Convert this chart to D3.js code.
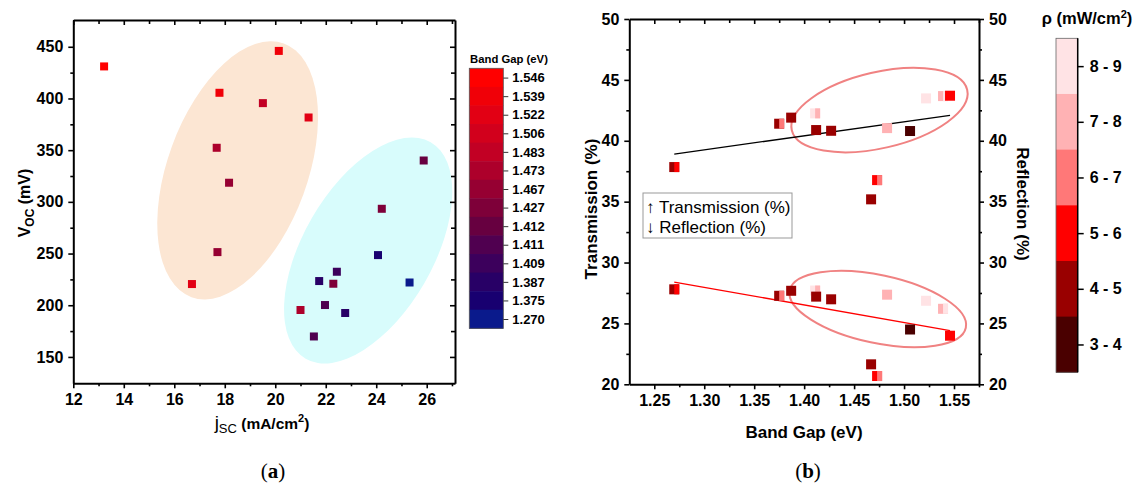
<!DOCTYPE html>
<html><head><meta charset="utf-8">
<script src="https://cdn.jsdelivr.net/npm/d3@7"></script>
<style>body{margin:0;background:#fff;} svg{display:block;font-family:"Liberation Sans",Arial,sans-serif;}</style>
</head><body><svg id="c" width="1137" height="487"></svg>
<script>
// ---------- Panel (a) data ----------
const bandGapLevels = [1.546,1.539,1.522,1.506,1.483,1.473,1.467,1.427,1.412,1.411,1.409,1.387,1.375,1.270];
const bandGapColors = ["#ff0000","#f00008","#e20014","#d2001c","#c20024","#ad002b","#960032","#7e0039","#670040","#500050","#3c005c","#280066","#180070","#0a1a8c"];
const jscValues = [13.22,20.14,17.79,19.51,21.32,17.68,18.17,25.88,24.22,17.71,16.70,24.07,22.44,21.74,22.30,25.32,21.00,21.97,22.77,21.53];
const vocValues = [431,446,405.5,395.5,381.6,352.3,318.5,340,293.3,251.4,220.5,248.5,232.4,223.4,220.8,222,195.4,200.2,192.5,169.8];
const pointBandGap = [1.546,1.539,1.539,1.483,1.522,1.473,1.467,1.412,1.427,1.467,1.522,1.375,1.409,1.387,1.427,1.270,1.473,1.411,1.387,1.411];
const jscTicks = [12,14,16,18,20,22,24,26];
const jscMinor = [13,15,17,19,21,23,25,27];
const vocTicks = [150,200,250,300,350,400,450];
const vocMinor = [175,225,275,325,375,425];
// cluster ellipses: [centre jsc, centre voc]
const clusterCentres = [[18.51,330.5],[23.68,253]];

// ---------- Panel (b) data ----------
const bandGap = [1.270,1.375,1.387,1.411,1.412,1.427,1.467,1.473,1.483,1.506,1.522,1.539,1.546];
const transmission = [37.84,41.4,41.9,42.25,40.88,40.82,35.19,36.77,41.04,40.8,43.48,43.67,43.7];
const reflection = [27.8,27.27,27.68,27.7,27.2,26.98,21.64,20.68,27.36,24.5,26.86,26.2,23.99];
const rhoMain = [4,4,4,0,4,4,4,3,1,5,0,1,3];
const rhoSecond = [3,2,null,1,null,null,null,2,null,null,null,0,null];
const rhoLabels = ["8 - 9","7 - 8","6 - 7","5 - 6","4 - 5","3 - 4"];
const rhoColors = ["#ffe3e5","#ffb2b4","#ff7878","#ff0000","#990000","#4a0000"];
const transFit = [[1.27,38.91],[1.546,42.09]];
const reflFit = [[1.27,28.4],[1.546,24.4]];
const bgTicks = [1.25,1.30,1.35,1.40,1.45,1.50,1.55];
const bgMinor = [1.275,1.325,1.375,1.425,1.475,1.525,1.575];
const pctTicks = [20,25,30,35,40,45,50];
const pctMinor = [22.5,27.5,32.5,37.5,42.5,47.5];
const groupCentres = [[1.4754,42.52],[1.4737,26.18]];

const svg = d3.select("#c");
const bgColor = d3.scaleOrdinal(bandGapLevels, bandGapColors);
const rhoColor = i => rhoColors[i];

function styleAxis(g){
  g.selectAll("path.domain").attr("stroke","#000").attr("stroke-width",2);
  g.selectAll(".tick line").attr("stroke","#000").attr("stroke-width",1.6);
  g.selectAll(".tick text").attr("font-size",16).attr("font-weight","bold").attr("fill","#000")
    .attr("font-family","'Liberation Sans',Arial,sans-serif");
}
function frame(x, y, opts){
  const [x0,x1] = x.range(), [y0,y1] = y.range(); // y0 bottom
  const fmtX = opts.fmtX, fmtY = opts.fmtY;
  svg.append("g").attr("transform",`translate(0,${y0})`).call(d3.axisBottom(x).tickValues(opts.xMin).tickSize(3).tickFormat("")).call(g=>g.select(".domain").remove()).call(styleAxis);
  svg.append("g").attr("transform",`translate(${x0},0)`).call(d3.axisLeft(y).tickValues(opts.yMin).tickSize(3).tickFormat("")).call(g=>g.select(".domain").remove()).call(styleAxis);
  svg.append("g").attr("transform",`translate(0,${y1})`).call(d3.axisTop(x).tickValues(opts.xMin).tickSize(-4).tickFormat("")).call(g=>g.select(".domain").remove()).call(styleAxis);
  svg.append("g").attr("transform",`translate(${x1},0)`).call(d3.axisRight(y).tickValues(opts.yMin).tickSize(opts.rightOut?3:-4).tickFormat("")).call(g=>g.select(".domain").remove()).call(styleAxis);
  svg.append("g").attr("transform",`translate(0,${y0})`).call(d3.axisBottom(x).tickValues(opts.xMaj).tickSize(5).tickSizeOuter(0).tickPadding(5).tickFormat(fmtX)).call(styleAxis);
  svg.append("g").attr("transform",`translate(${x0},0)`).call(d3.axisLeft(y).tickValues(opts.yMaj).tickSize(5).tickSizeOuter(0).tickPadding(5).tickFormat(fmtY)).call(styleAxis);
  svg.append("g").attr("transform",`translate(0,${y1})`).call(d3.axisTop(x).tickValues(opts.xMaj).tickSize(-5).tickSizeOuter(0).tickFormat("")).call(styleAxis);
  const r = svg.append("g").attr("transform",`translate(${x1},0)`);
  if(opts.rightOut) r.call(d3.axisRight(y).tickValues(opts.yMaj).tickSize(5).tickSizeOuter(0).tickPadding(5).tickFormat(fmtY));
  else r.call(d3.axisRight(y).tickValues(opts.yMaj).tickSize(-5).tickSizeOuter(0).tickFormat(""));
  r.call(styleAxis);
}

// ================= Panel (a) =================
const xa = d3.scaleLinear([12,27.12],[73.3,455]);
const ya = d3.scaleLinear([124.5,475.9],[383.3,20]);
const ga = svg.append("g");
const ell = [{c:clusterCentres[0], a:135, b:70, rot:20, fill:"#fce6d3"},{c:clusterCentres[1], a:125, b:65, rot:30, fill:"#d8fcfc"}];
ga.selectAll("ellipse").data(ell).join("ellipse")
  .attr("cx",0).attr("cy",0).attr("rx",d=>d.b).attr("ry",d=>d.a)
  .attr("transform",d=>`translate(${xa(d.c[0])},${ya(d.c[1])}) rotate(${d.rot})`)
  .attr("fill",d=>d.fill);
ga.selectAll("rect.pt").data(jscValues.map((v,i)=>({x:v,y:vocValues[i],bg:pointBandGap[i]}))).join("rect")
  .attr("class","pt").attr("x",d=>xa(d.x)-4).attr("y",d=>ya(d.y)-4).attr("width",8).attr("height",8)
  .attr("fill",d=>bgColor(d.bg));
frame(xa, ya, {xMaj:jscTicks,xMin:jscMinor,yMaj:vocTicks,yMin:vocMinor,fmtX:d3.format("d"),fmtY:d3.format("d")});
const ta = svg.append("text").attr("transform","translate(30,203) rotate(-90)").attr("text-anchor","middle")
  .attr("font-weight","bold").attr("font-size",16);
ta.append("tspan").text("V");
ta.append("tspan").attr("font-size",12).attr("dy",4).text("OC");
ta.append("tspan").attr("dy",-4).text(" (mV)");
const tb = svg.append("text").attr("x",262).attr("y",429).attr("text-anchor","middle").attr("font-size",15.5).attr("font-weight","bold");
tb.append("tspan").attr("font-size",19).attr("font-weight","normal").text("j");
tb.append("tspan").attr("font-size",13).attr("font-weight","normal").attr("dy",4).text("SC");
tb.append("tspan").attr("dy",-4).text(" (mA/cm");
tb.append("tspan").attr("font-size",11).attr("dy",-7).text("2");
tb.append("tspan").attr("dy",7).text(")");
// colour bar (a)
const cbA = d3.scaleBand(bandGapLevels,[68.3,328.3]);
svg.append("text").attr("x",509).attr("y",63).attr("text-anchor","middle").attr("font-size",11.3).attr("font-weight","bold").text("Band Gap (eV)");
svg.append("g").selectAll("rect").data(bandGapLevels).join("rect")
  .attr("x",469.3).attr("width",34).attr("y",d=>cbA(d)).attr("height",cbA.bandwidth()+0.5).attr("fill",d=>bgColor(d));
svg.append("rect").attr("x",469.3).attr("y",68.3).attr("width",34).attr("height",260).attr("fill","none").attr("stroke","#555").attr("stroke-width",0.8);
const cbAx = svg.append("g").attr("transform","translate(503.3,0)")
  .call(d3.axisRight(d3.scalePoint(bandGapLevels,[68.3+cbA.bandwidth()/2,328.3-cbA.bandwidth()/2])).tickSize(5).tickPadding(4).tickFormat(d3.format(".3f")));
cbAx.select(".domain").remove();
cbAx.selectAll(".tick line").attr("stroke","#333").attr("stroke-width",1);
cbAx.selectAll(".tick text").attr("font-size",13).attr("font-weight","bold").attr("fill","#000");

// ================= Panel (b) =================
const xb = d3.scaleLinear([1.225,1.575],[629.3,979]);
const yb = d3.scaleLinear([20,50],[384.3,19]);
const gb = svg.append("g");
const gell = [{c:groupCentres[0],a:90,b:38,rot:-13},{c:groupCentres[1],a:90,b:34,rot:12}];
gb.selectAll("ellipse").data(gell).join("ellipse")
  .attr("rx",d=>d.a).attr("ry",d=>d.b)
  .attr("transform",d=>`translate(${xb(d.c[0])},${yb(d.c[1])}) rotate(${d.rot})`)
  .attr("fill","none").attr("stroke","#f08282").attr("stroke-width",2);
const line = d3.line().x(d=>xb(d[0])).y(d=>yb(d[1]));
gb.append("path").attr("d",line(transFit)).attr("stroke","#000").attr("stroke-width",1.3).attr("fill","none");
gb.append("path").attr("d",line(reflFit)).attr("stroke","#ff0000").attr("stroke-width",1.3).attr("fill","none");
const ptsB = [];
bandGap.forEach((b,i)=>{
  ptsB.push({x:b,y:transmission[i],m:rhoMain[i],s:rhoSecond[i]});
  ptsB.push({x:b,y:reflection[i],m:rhoMain[i],s:rhoSecond[i]});
});
const pg = gb.selectAll("g.pt").data(ptsB).join("g").attr("class","pt")
  .attr("transform",d=>`translate(${xb(d.x)},${yb(d.y)})`);
pg.append("rect").attr("x",-5).attr("y",-5).attr("width",10).attr("height",10).attr("fill",d=>rhoColor(d.m));
pg.filter(d=>d.s!==null).append("rect").attr("x",0).attr("y",-5).attr("width",5).attr("height",10).attr("fill",d=>rhoColor(d.s));
frame(xb, yb, {xMaj:bgTicks,xMin:bgMinor,yMaj:pctTicks,yMin:pctMinor,fmtX:d3.format(".2f"),fmtY:d3.format("d"),rightOut:true});
svg.append("text").attr("x",804).attr("y",438).attr("text-anchor","middle").attr("font-size",17).attr("font-weight","bold").text("Band Gap (eV)");
svg.append("text").attr("transform","translate(597,209) rotate(-90)").attr("text-anchor","middle").attr("font-size",17).attr("font-weight","bold").text("Transmission (%)");
svg.append("text").attr("transform","translate(1017,204) rotate(90)").attr("text-anchor","middle").attr("font-size",17).attr("font-weight","bold").text("Reflection (%)");
const lg = svg.append("g");
lg.append("rect").attr("x",643).attr("y",193).attr("width",149).attr("height",45).attr("fill","#fff").attr("stroke","#999").attr("stroke-width",1);
lg.append("text").attr("x",646).attr("y",213).attr("font-size",17).text("\u2191 Transmission (%)");
lg.append("text").attr("x",646).attr("y",233).attr("font-size",17).text("\u2193 Reflection (%)");
// colour bar (b)
const cbB = d3.scaleBand(rhoLabels,[38.3,372.3]);
svg.append("g").selectAll("rect").data(rhoLabels).join("rect")
  .attr("x",1056).attr("width",21.7).attr("y",d=>cbB(d)).attr("height",cbB.bandwidth()+0.5).attr("fill",(d,i)=>rhoColors[i]);
svg.append("rect").attr("x",1056).attr("y",38.3).attr("width",21.7).attr("height",334).attr("fill","none").attr("stroke","#666").attr("stroke-width",0.8);
const cbBx = svg.append("g").attr("transform","translate(1077.7,0)")
  .call(d3.axisRight(d3.scalePoint(rhoLabels,[38.3+cbB.bandwidth()/2,372.3-cbB.bandwidth()/2])).tickSize(6).tickSizeOuter(0).tickPadding(6));
cbBx.select(".domain").attr("d","M0,38.3V372.3").attr("stroke","#000").attr("stroke-width",1.5);
cbBx.selectAll(".tick line").attr("stroke","#000").attr("stroke-width",1.5);
cbBx.selectAll(".tick text").attr("font-size",16).attr("font-weight","bold").attr("fill","#000");
const rt = svg.append("text").attr("x",1087).attr("y",24).attr("text-anchor","middle").attr("font-size",16.5).attr("font-weight","bold");
rt.append("tspan").text("\u03c1 (mW/cm");
rt.append("tspan").attr("font-size",11).attr("dy",-6).text("2");
rt.append("tspan").attr("dy",6).text(")");

function panelLabel(x, letter){
  const t = svg.append("text").attr("x",x).attr("y",478).attr("text-anchor","middle").attr("font-size",21)
    .attr("font-family","'Liberation Serif','Times New Roman',serif");
  t.append("tspan").text("(");
  t.append("tspan").attr("font-weight","bold").text(letter);
  t.append("tspan").text(")");
}
panelLabel(273,"a");
panelLabel(808,"b");
</script></body></html>
